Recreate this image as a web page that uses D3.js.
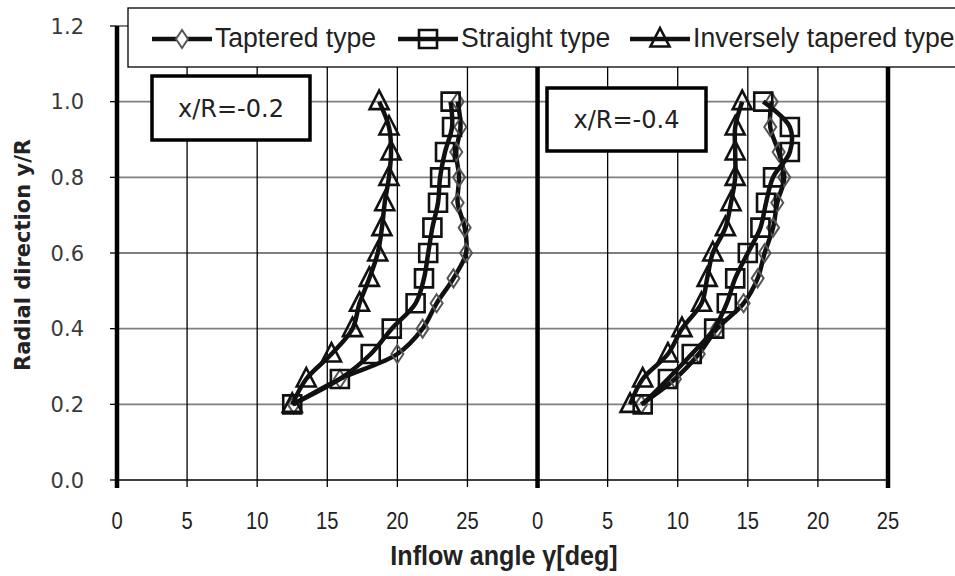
<!DOCTYPE html>
<html>
<head>
<meta charset="utf-8">
<script src="https://cdn.jsdelivr.net/npm/d3@7"></script>
<style>
    body { margin: 0; background: #fff; }
    svg { display: block; }
    .narrow { font-family: "Liberation Sans Narrow", "Liberation Sans", sans-serif; fill: #222; }
    .y-label { font-family: "DejaVu Sans", sans-serif; fill: #3a3a3a; }
</style>
</head>
<body>
<div id="chart"></div>
<script>

// Radial positions y/R, top to bottom
var radial = [1.0, 0.933, 0.867, 0.8, 0.733, 0.667, 0.6, 0.533, 0.467, 0.4, 0.333, 0.267, 0.2];

// x/R = -0.2 panel, inflow angle [deg]
var taperedA  = [24.3, 24.5, 24.2, 24.4, 24.3, 24.8, 24.9, 24.0, 22.8, 21.8, 20.0, 15.9, 12.6];
var straightA = [23.8, 23.9, 23.4, 23.05, 22.9, 22.5, 22.2, 21.9, 21.3, 19.6, 18.1, 15.9, 12.5];
var inverseA  = [18.7, 19.4, 19.55, 19.4, 19.1, 18.9, 18.6, 18.0, 17.3, 16.8, 15.3, 13.5, 12.5];

// x/R = -0.4 panel, inflow angle [deg]
var taperedB  = [16.7, 16.6, 17.2, 17.6, 17.1, 16.8, 16.2, 15.7, 14.7, 12.8, 11.5, 9.8, 7.4];
var straightB = [16.1, 18.0, 18.0, 16.8, 16.3, 15.9, 15.0, 14.1, 13.5, 12.6, 11.0, 9.3, 7.5];
var inverseB  = [14.6, 14.1, 14.1, 14.1, 13.8, 13.4, 12.5, 12.1, 11.7, 10.3, 9.3, 7.5, 6.6];

var panelNames = ["x/R=-0.2", "x/R=-0.4"];
var panelOffset = [0, 30];
var seriesNames = ["Taptered type", "Straight type", "Inversely tapered type"];
var seriesMarkers = ["diamond", "square", "triangle"];

var xTickValues = [0, 5, 10, 15, 20, 25, 30, 35, 40, 45, 50, 55];
var xTickLabels = ["0", "5", "10", "15", "20", "25", "0", "5", "10", "15", "20", "25"];
var yTickValues = [0, 0.2, 0.4, 0.6, 0.8, 1.0, 1.2];
var dividers = [0, 30, 55];


var width = 955, height = 576;
var margin = {top: 26, right: 67, bottom: 96, left: 117};

var svg = d3.select("#chart").append("svg")
    .attr("width", width)
    .attr("height", height);

// Scales
var x = d3.scaleLinear().domain([0, 55]).range([margin.left, width - margin.right]);
var y = d3.scaleLinear().domain([0, 1.2]).range([height - margin.bottom, margin.top]);

// Horizontal gridlines
svg.append("g").selectAll("line")
    .data(yTickValues.filter(d => d > 0))
    .enter().append("line")
    .attr("x1", x(0)).attr("x2", x(55))
    .attr("y1", d => y(d)).attr("y2", d => y(d))
    .attr("stroke", "#7f7f7f")
    .attr("stroke-width", 1.8);

// Vertical gridlines (thin)
svg.append("g").selectAll("line")
    .data(xTickValues.filter(d => dividers.indexOf(d) < 0))
    .enter().append("line")
    .attr("x1", d => x(d)).attr("x2", d => x(d))
    .attr("y1", y(1.2)).attr("y2", y(0) + 7)
    .attr("stroke", "#000")
    .attr("stroke-width", 1.3);

// Bottom axis line + y ticks
svg.append("line")
    .attr("x1", x(0)).attr("x2", x(55))
    .attr("y1", y(0)).attr("y2", y(0))
    .attr("stroke", "#000").attr("stroke-width", 1.3);

svg.append("g").selectAll("line")
    .data(yTickValues)
    .enter().append("line")
    .attr("x1", x(0) - 7).attr("x2", x(0))
    .attr("y1", d => y(d)).attr("y2", d => y(d))
    .attr("stroke", "#000").attr("stroke-width", 1.3);

// Thick panel dividers
svg.append("g").selectAll("line")
    .data(dividers)
    .enter().append("line")
    .attr("x1", d => x(d)).attr("x2", d => x(d))
    .attr("y1", y(1.2)).attr("y2", y(0) + 8)
    .attr("stroke", "#000")
    .attr("stroke-width", 4.5);

// Tick labels (condensed look)
svg.append("g").selectAll("text")
    .data(xTickValues)
    .enter().append("text")
    .attr("class", "narrow")
    .attr("transform", d => "translate(" + x(d) + "," + (y(0) + 49) + ") scale(0.84,1)")
    .attr("text-anchor", "middle")
    .style("font-size", "24px")
    .text((d, i) => xTickLabels[i]);

svg.append("g").selectAll("text")
    .data(yTickValues)
    .enter().append("text")
    .attr("class", "y-label")
    .attr("x", 84)
    .attr("y", d => y(d))
    .attr("dy", "0.36em")
    .attr("text-anchor", "end")
    .style("font-size", "21px")
    .text(d => d3.format(".1f")(d));

// Axis titles
svg.append("text")
    .attr("class", "narrow")
    .attr("transform", "translate(504,565) scale(0.93,1)")
    .attr("text-anchor", "middle")
    .style("font-weight", "bold")
    .style("font-size", "27px")
    .text("Inflow angle \u03b3[deg]");

svg.append("text")
    .attr("transform", "translate(30,255) rotate(-90)")
    .attr("text-anchor", "middle")
    .style("font-family", "'DejaVu Sans', sans-serif")
    .style("font-weight", "bold")
    .style("font-size", "21px")
    .style("fill", "#222")
    .text("Radial direction y/R");

// Marker shapes
var markerPath = {
    diamond: "M0,-9L6,0L0,9L-6,0Z",
    square: "M-9,-9H9V9H-9Z",
    triangle: "M0,-11L9.5,7.5H-9.5Z"
};
var markerStroke = {diamond: "#555", square: "#111", triangle: "#111"};

function drawMarker(g, kind, cx, cy, fill) {
    g.append("path")
        .attr("d", markerPath[kind])
        .attr("transform", "translate(" + cx + "," + cy + ")")
        .attr("fill", fill || "none")
        .attr("stroke", markerStroke[kind])
        .attr("stroke-width", kind == "diamond" ? 2 : 2.6)
        .attr("stroke-linejoin", "miter");
}

// Curves
var panels = [
    [taperedA, straightA, inverseA],
    [taperedB, straightB, inverseB]
];

var line = d3.line()
    .x(d => x(d[0]))
    .y(d => y(d[1]))
    .curve(d3.curveCatmullRom.alpha(0.5));

var plot = svg.append("g");
panels.forEach((series, p) => {
    series.forEach((values, s) => {
        var pts = values.map((v, i) => [v + panelOffset[p], radial[i]]);
        plot.append("path")
            .datum(pts)
            .attr("d", line)
            .attr("fill", "none")
            .attr("stroke", "#111")
            .attr("stroke-width", 4.5)
            .attr("stroke-linejoin", "round");
        pts.forEach(pt => drawMarker(plot, seriesMarkers[s], x(pt[0]), y(pt[1])));
    });
});

// Panel label boxes
var boxes = [
    {x: 152, y: 76, w: 158, h: 64},
    {x: 547, y: 88, w: 159, h: 63}
];
panelNames.forEach((name, i) => {
    var b = boxes[i];
    svg.append("rect")
        .attr("x", b.x).attr("y", b.y)
        .attr("width", b.w).attr("height", b.h)
        .attr("fill", "#fff")
        .attr("stroke", "#000")
        .attr("stroke-width", 3.5);
    svg.append("text")
        .attr("x", b.x + b.w / 2)
        .attr("y", b.y + b.h / 2)
        .attr("dy", "0.36em")
        .attr("text-anchor", "middle")
        .style("font-family", "'DejaVu Sans', sans-serif")
        .style("font-size", "24px")
        .style("fill", "#222")
        .text(name);
});

// Legend
var legend = svg.append("g");
legend.append("rect")
    .attr("x", 128).attr("y", 8)
    .attr("width", 850).attr("height", 59)
    .attr("fill", "#fff")
    .attr("stroke", "#000")
    .attr("stroke-width", 1.3);

var legendX = [152, 398, 630];
seriesNames.forEach((name, i) => {
    var lx = legendX[i];
    legend.append("line")
        .attr("x1", lx).attr("x2", lx + 60)
        .attr("y1", 39).attr("y2", 39)
        .attr("stroke", "#111")
        .attr("stroke-width", 4.5);
    drawMarker(legend, seriesMarkers[i], lx + 30, 39, i == 0 ? "#fff" : "none");
    legend.append("text")
        .attr("class", "narrow")
        .attr("transform", "translate(" + (lx + 63) + ",47) scale(0.95,1)")
        .style("font-size", "28px")
        .text(name);
});

</script>
</body>
</html>
